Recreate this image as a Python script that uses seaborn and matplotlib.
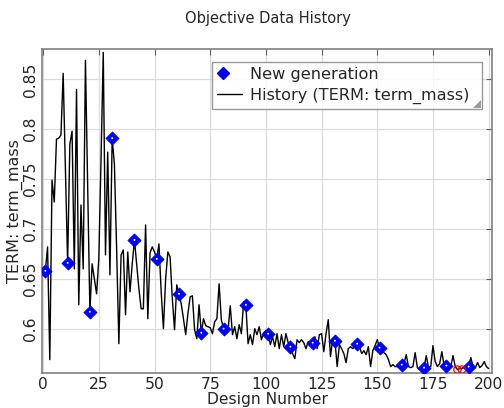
import numpy as np
import pandas as pd
import matplotlib
matplotlib.use("Agg")
import matplotlib.pyplot as plt
import seaborn as sns
from matplotlib.legend_handler import HandlerTuple
from matplotlib.lines import Line2D
from matplotlib.patches import Polygon

# ---- data ----
history_values = [
    0.658, 0.682, 0.569, 0.749, 0.727, 0.790, 0.791, 0.794, 0.856, 0.760,
    0.666, 0.785, 0.798, 0.660, 0.840, 0.624, 0.724, 0.660, 0.869, 0.740,
    0.617, 0.665, 0.650, 0.635, 0.670, 0.770, 0.877, 0.674, 0.777, 0.654,
    0.791, 0.765, 0.680, 0.585, 0.674, 0.679, 0.614, 0.677, 0.637, 0.665,
    0.689, 0.665, 0.640, 0.620, 0.620, 0.704, 0.610, 0.676, 0.682, 0.677,
    0.670, 0.685, 0.637, 0.600, 0.650, 0.677, 0.672, 0.630, 0.599, 0.644,
    0.635, 0.625, 0.610, 0.594, 0.615, 0.632, 0.633, 0.599, 0.590, 0.624,
    0.596, 0.610, 0.603, 0.602, 0.601, 0.595, 0.607, 0.610, 0.645, 0.609,
    0.600, 0.602, 0.598, 0.623, 0.594, 0.602, 0.590, 0.604, 0.595, 0.627,
    0.624, 0.585, 0.594, 0.584, 0.600, 0.594, 0.602, 0.589, 0.596, 0.598,
    0.595, 0.584, 0.592, 0.582, 0.595, 0.580, 0.594, 0.582, 0.595, 0.586,
    0.582, 0.575, 0.570, 0.589, 0.586, 0.589, 0.586, 0.580, 0.587, 0.584,
    0.586, 0.592, 0.580, 0.594, 0.595, 0.577, 0.595, 0.609, 0.572, 0.590,
    0.588, 0.562, 0.584, 0.580, 0.575, 0.566, 0.580, 0.582, 0.580, 0.583,
    0.585, 0.582, 0.575, 0.578, 0.574, 0.582, 0.562, 0.578, 0.583, 0.589,
    0.581, 0.577, 0.576, 0.574, 0.569, 0.562, 0.564, 0.562, 0.562, 0.565,
    0.564, 0.565, 0.574, 0.562, 0.561, 0.562, 0.576, 0.561, 0.559, 0.562,
    0.561, 0.573, 0.561, 0.562, 0.583, 0.567, 0.562, 0.565, 0.577, 0.563,
    0.563, 0.562, 0.562, 0.573, 0.562, 0.559, 0.560, 0.560, 0.562, 0.563,
    0.562, 0.571, 0.562, 0.561, 0.566, 0.561, 0.563, 0.567, 0.562, 0.560,
]
history_design = list(range(1, len(history_values) + 1))

gen_design = [1, 11, 21, 31, 41, 51, 61, 71, 81, 91,
              101, 111, 121, 131, 141, 151, 161, 171, 181, 191]
gen_value = [0.658, 0.666, 0.617, 0.791, 0.689, 0.670, 0.635, 0.596, 0.600, 0.624,
             0.595, 0.582, 0.586, 0.588, 0.585, 0.581, 0.564, 0.561, 0.563, 0.562]

best_design = [186, 188]
best_value = [0.559, 0.559]

x_ticks = [0, 25, 50, 75, 100, 125, 150, 175, 200]
y_ticks = [0.6, 0.65, 0.7, 0.75, 0.8, 0.85]
y_tick_labels = ["0.6", "0.65", "0.7", "0.75", "0.8", "0.85"]

hist_df = pd.DataFrame({"design": history_design, "value": history_values})
gen_df = pd.DataFrame({"design": gen_design, "value": gen_value})
best_df = pd.DataFrame({"design": best_design, "value": best_value})

# ---- plot ----
sns.set_style("white")
plt.rcParams["font.family"] = ["DejaVu Sans"]

fig = plt.figure(figsize=(5.04, 4.08), dpi=100)
ax = fig.add_axes([42 / 504, 35 / 408, 450 / 504, (373 - 49) / 408])

sns.lineplot(data=hist_df, x="design", y="value", ax=ax, color="black",
             linewidth=1.0, zorder=3, legend=False)
sns.scatterplot(data=gen_df, x="design", y="value", ax=ax, marker="D",
                color="#0000ff", edgecolor="#0000ff", s=42, linewidth=0.8,
                zorder=4, legend=False)
sns.scatterplot(data=gen_df, x="design", y="value", ax=ax, marker="o",
                color="white", edgecolor="none", s=2, zorder=5, legend=False)
sns.scatterplot(data=best_df, x="design", y="value", ax=ax, marker="o",
                facecolor="none", edgecolor="red", s=28, linewidth=0.9,
                zorder=5, legend=False)

ax.set_xlim(-0.5, 201.5)
ax.set_ylim(0.5556, 0.8804)
ax.set_xticks(x_ticks)
ax.set_yticks(y_ticks)
ax.set_yticklabels(y_tick_labels)

ax.grid(True, color="#dcdcdc", linewidth=0.9)
ax.set_axisbelow(True)
for s in ax.spines.values():
    s.set_color("#808080")
    s.set_linewidth(1.2)
ax.tick_params(axis="both", direction="in", length=4, width=0.8,
               color="#606060", top=True, right=True, labelsize=11.2,
               pad=3)
ax.tick_params(axis="y", labelrotation=90)
for lbl in ax.get_yticklabels():
    lbl.set_verticalalignment("center")

ax.set_xlabel("Design Number", fontsize=11.2, labelpad=0)
ax.set_ylabel("TERM: term_mass", fontsize=11.5, labelpad=0)
fig.text(0.532, 0.955, "Objective Data History", ha="center", va="center",
         fontsize=10.5)

h_d = Line2D([], [], marker="D", linestyle="none", color="#0000ff",
             markersize=6.5)
h_w = Line2D([], [], marker="o", linestyle="none", color="white",
             markersize=1.5)
h_l = Line2D([], [], color="black", linewidth=1.0)
leg = ax.legend([(h_d, h_w), h_l],
                ["New generation", "History (TERM: term_mass)\u2002"],
                handler_map={tuple: HandlerTuple(ndivide=None, pad=0)},
                loc="upper right", bbox_to_anchor=(440 / 450, 1 - 13 / 324),
                fontsize=11.6, frameon=True, fancybox=False,
                handlelength=1.55, handletextpad=0.48, borderpad=0.3,
                labelspacing=0.38, borderaxespad=0.0)
leg.get_frame().set_edgecolor("#808080")
leg.get_frame().set_linewidth(1.0)
leg.set_zorder(10)

fig.canvas.draw()
bb = leg.get_window_extent()
tri = Polygon([[bb.x1 - 1, bb.y0 + 1], [bb.x1 - 1, bb.y0 + 9],
               [bb.x1 - 9, bb.y0 + 1]], closed=True,
              transform=None, facecolor="#9a9a9a", edgecolor="none",
              zorder=11)
fig.patches.append(tri)

fig.savefig("out.png", dpi=100)
